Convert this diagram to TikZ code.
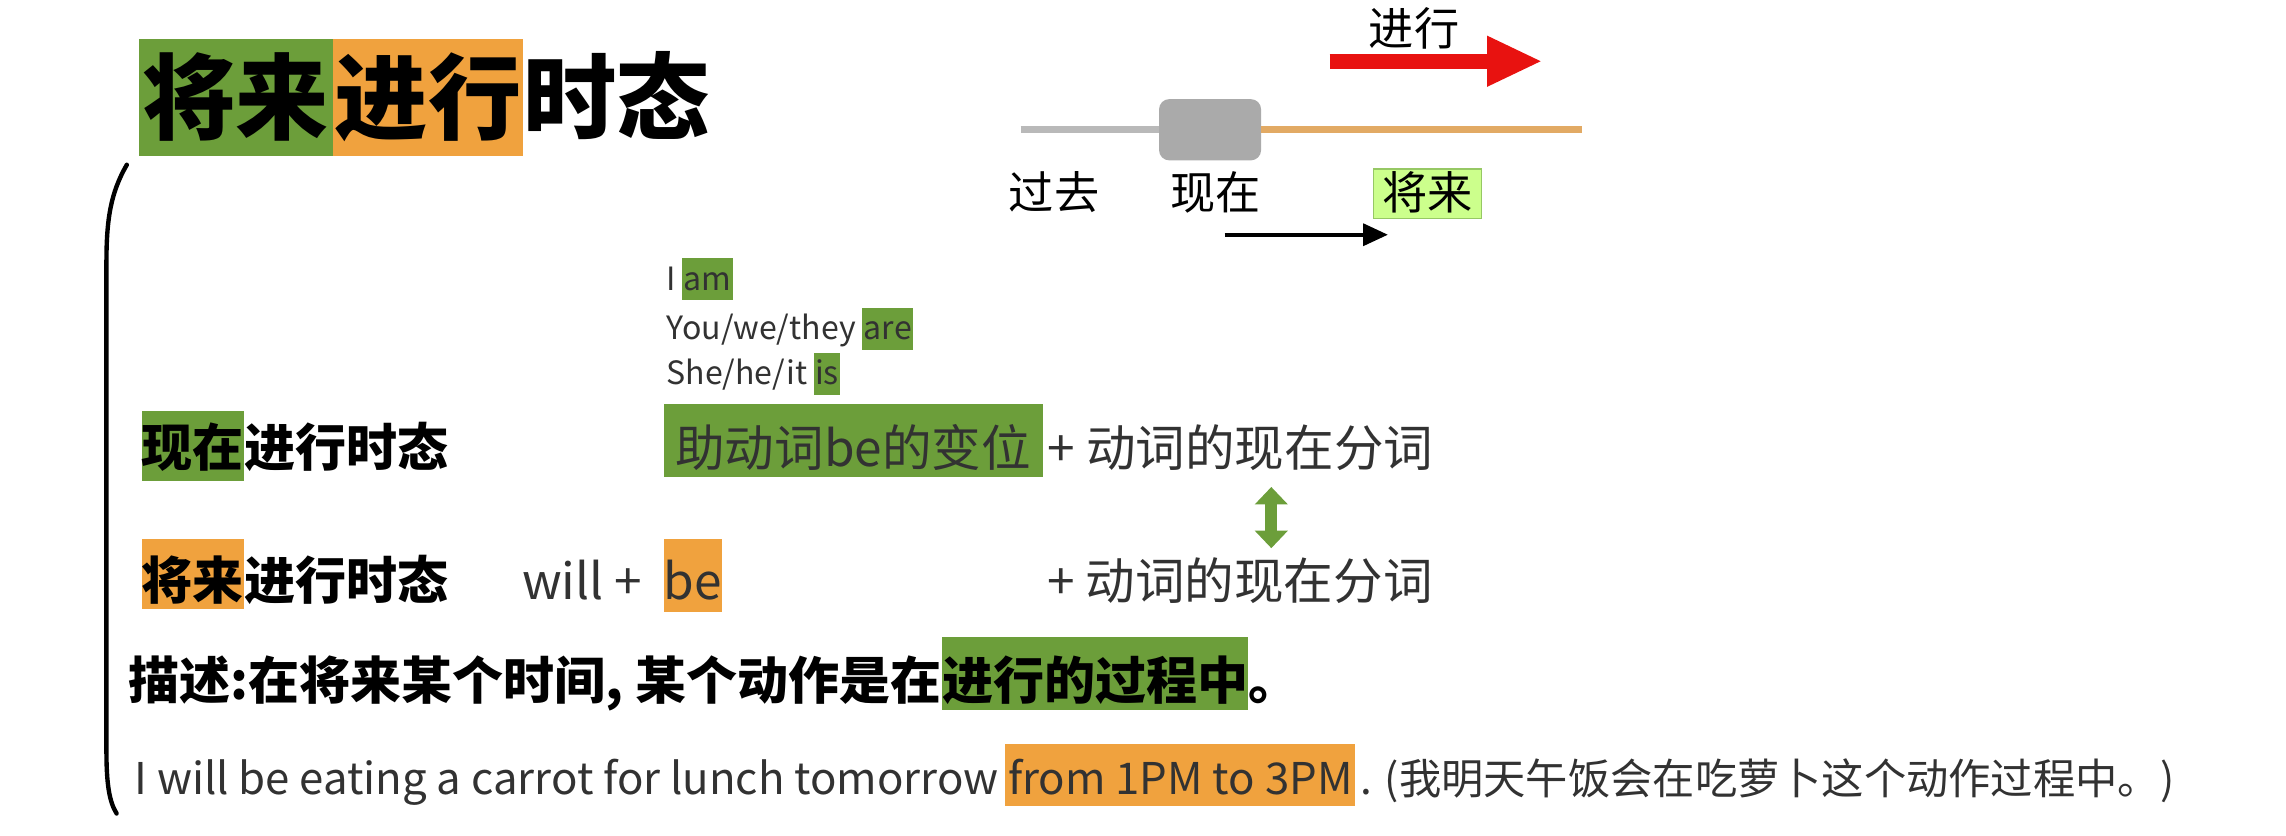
\documentclass[tikz,border=0pt]{standalone}
\usepackage{fontspec}
\setmainfont{Noto Sans CJK SC}
\usetikzlibrary{arrows.meta,positioning}
\definecolor{cgreen}{RGB}{108,158,58}
\definecolor{corange}{RGB}{240,162,62}
\definecolor{clight}{RGB}{204,255,140}
\definecolor{clightb}{RGB}{150,200,100}
\definecolor{cgrayb}{RGB}{170,170,170}
\definecolor{cgrayl}{RGB}{185,185,185}
\definecolor{ctan}{RGB}{226,170,100}
\definecolor{cred}{RGB}{232,18,16}
\definecolor{ctext}{RGB}{50,50,50}
\newcommand\myfs[1]{\fontsize{#1pt}{#1pt}\selectfont}
\begin{document}
\begin{tikzpicture}[x=1pt,y=-1pt,
  tx/.style={inner sep=0pt, anchor=base west},
  ttl/.style={font=\myfs{64}\bfseries},
  lbl/.style={anchor=base, inner sep=0pt, font=\myfs{31}},
  sml/.style={tx, font=\myfs{22}, text=ctext},
  rowb/.style={tx, font=\myfs{35}\bfseries},
  rown/.style={tx, font=\myfs{34}, text=ctext},
  eng/.style={tx, font=\myfs{30}, text=ctext}]
\useasboundingbox (0,0) rectangle (1568,573);
% title
\node[tx, ttl, fill=cgreen, minimum width=133pt, text height=64pt, text depth=16pt] (t1) at (95,91) {将来};
\node[tx, ttl, fill=corange, minimum width=130pt, text height=64pt, text depth=16pt] (t2) at (t1.base east) {进行};
\node[tx, ttl] (t3) at (t2.base east) {时态};
% timeline
\node[fill=cgrayb, rounded corners=7pt, minimum width=70pt, minimum height=42pt, inner sep=0pt] (now) at (830,89) {};
\coordinate (pastend) at (700,89);
\coordinate (futend) at (1085,89);
\draw[line width=5pt, cgrayl] (pastend) -- (now.west);
\draw[line width=5pt, ctan] (now.east) -- (futend);
\coordinate (ra1) at (912,42);
\coordinate (ra2) at (1058,42);
\draw[line width=10pt, cred, -{Triangle[length=38pt,width=32pt]}] (ra1) -- (ra2);
\node[lbl] (jx) at (970,31) {进行};
\node[lbl] (past) at (723,144) {过去};
\node[lbl] (nowl) at (834,144) {现在};
\node[lbl, fill=clight, draw=clightb, line width=1pt, minimum width=74pt, text height=28pt, text depth=6pt] (fut) at (979,144) {将来};
\coordinate (ba1) at (840,161);
\coordinate (ba2) at (952,161);
\draw[line width=2.6pt, -{Triangle[length=17pt,width=15pt]}] (ba1) -- (ba2);
% bracket
\draw[line width=3pt, line cap=round] (87,113) .. controls (76,132) and (73,150) .. (73,180) -- (73,515) .. controls (73,538) and (75,550) .. (80,558);
% be conjugation
\node[sml] (iI) at (457,199) {I};
\node[sml, fill=cgreen, inner xsep=1pt, text height=22pt, text depth=7pt] (iam) at ([xshift=4pt]iI.base east) {am};
\node[sml] (you) at (457,233) {You/we/they};
\node[sml, fill=cgreen, inner xsep=1pt, text height=22pt, text depth=7pt] (are) at ([xshift=4pt]you.base east) {are};
\node[sml] (she) at (457,264) {She/he/it};
\node[sml, fill=cgreen, inner xsep=1pt, text height=22pt, text depth=7pt] (is) at ([xshift=4pt]she.base east) {is};
% row 1
\node[rowb, fill=cgreen, text height=38pt, text depth=10pt] (r1a) at (97,320) {现在};
\node[rowb] (r1b) at (r1a.base east) {进行时态};
\node[rown, fill=cgreen, minimum width=260pt, text height=43pt, text depth=7pt] (aux) at (455,320) {助动词be的变位};
\node[rown] (p1) at ([xshift=3pt]aux.base east) {+ 动词的现在分词};
% row 2
\node[rowb, fill=corange, text height=41pt, text depth=7pt] (r2a) at (97,411) {将来};
\node[rowb] (r2b) at (r2a.base east) {进行时态};
\node[rown] (will) at (358,411) {will +};
\node[rown, fill=corange, minimum width=40pt, text height=41pt, text depth=9pt] (be) at (455,411) {be};
\node[rown] (p2) at (718,411) {+ 动词的现在分词};
\coordinate (da1) at (872,334);
\coordinate (da2) at (872,376);
\draw[line width=8pt, cgreen, {Triangle[length=12pt,width=22pt]}-{Triangle[length=12pt,width=22pt]}] (da1) -- (da2);
% description
\node[rowb] (d1) at (88,480) {描述:在将来某个时间, 某个动作是在};
\node[rowb, fill=cgreen, text height=43pt, text depth=7pt] (d2) at (d1.base east) {进行的过程中};
\node[rowb] (d3) at (d2.base east) {。};
% example
\node[eng] (e1) at (92,545) {I will be eating a carrot for lunch tomorrow};
\node[eng, fill=corange, inner xsep=2pt, text height=35pt, text depth=8pt] (e2) at ([xshift=4pt]e1.base east) {from 1PM to 3PM};
\node[eng, font=\myfs{29}] (e3) at ([xshift=3pt]e2.base east) {. (我明天午饭会在吃萝卜这个动作过程中。)};
\end{tikzpicture}
\end{document}
